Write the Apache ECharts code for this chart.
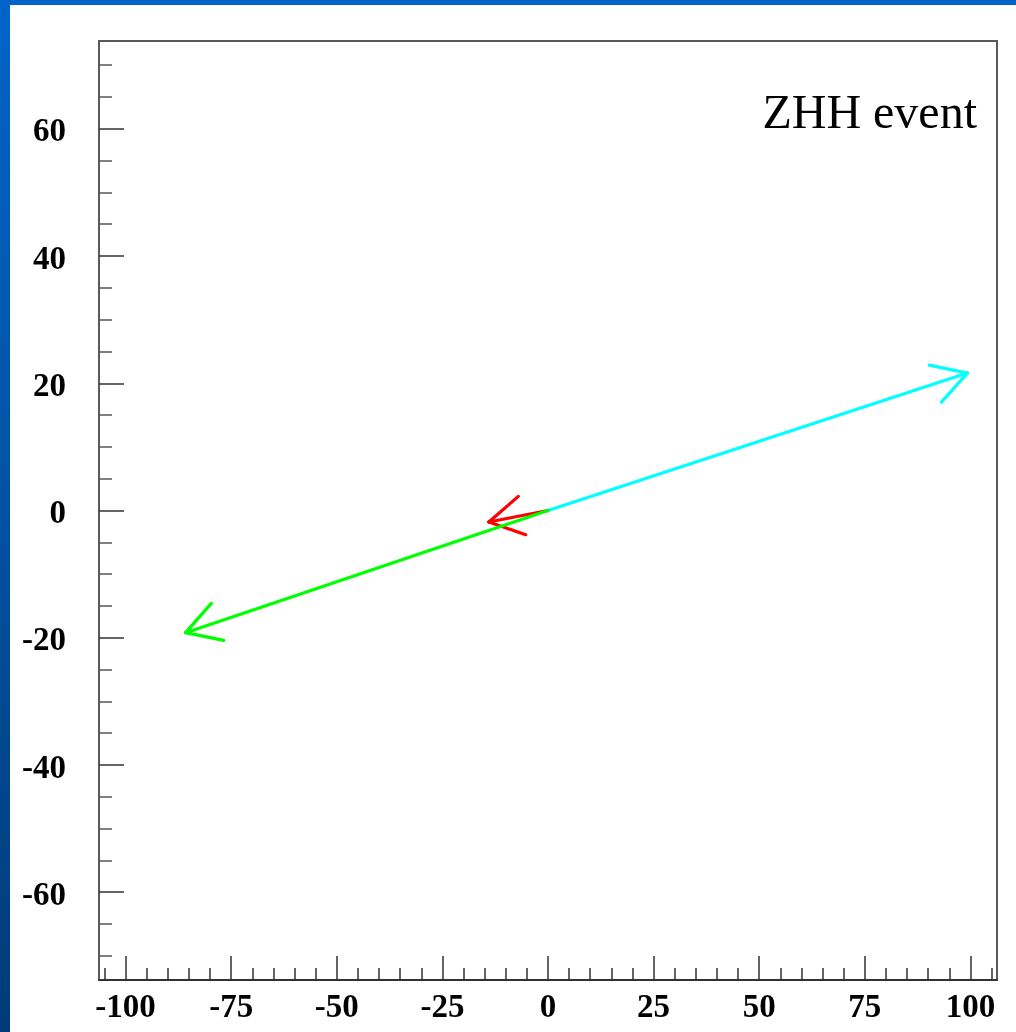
<!DOCTYPE html>
<html>
<head>
<meta charset="utf-8">
<title>ZHH event</title>
<script src="https://cdn.jsdelivr.net/npm/echarts@6/dist/echarts.min.js"></script>
<style>
  html, body { margin: 0; padding: 0; width: 1016px; height: 1032px; overflow: hidden; }
  body { background: linear-gradient(180deg, #0064c8 0%, #0054a6 45%, #003b78 100%); }
  #chart { position: absolute; left: 10px; top: 5px; width: 1006px; height: 1027px; background: #ffffff; }
</style>
</head>
<body>
<div id="chart"></div>
<script>
// Momentum vectors in the transverse plane (start at the origin)
const vecX = [-14.0, 99.3, -85.8];
const vecY = [-1.8, 21.6, -19.2];
const vecColors = ['#ff0000', '#00ffff', '#00ff00'];

// Axis ranges and tick labels
const xRange = [-106.3, 106.3];
const yRange = [-73.8, 73.8];
const xMajor = [-100, -75, -50, -25, 0, 25, 50, 75, 100];
const yMajor = [-60, -40, -20, 0, 20, 40, 60];

// minor ticks every 5 units between the labelled ones
const xMinor = [];
for (let v = -105; v <= 105; v += 5) if (xMajor.indexOf(v) < 0) xMinor.push(v);
const yMinor = [];
for (let v = -70; v <= 70; v += 5) if (yMajor.indexOf(v) < 0) yMinor.push(v);

const labelFont = {
  fontFamily: 'Liberation Serif',
  fontWeight: 'bold',
  fontSize: 33,
  color: '#000'
};

const HEAD_LEN = 39;
const HEAD_ANGLE = Math.PI / 6;

function renderArrow(params, api) {
  const o = api.coord([0, 0]);
  const t = api.coord([api.value(0), api.value(1)]);
  const color = vecColors[params.dataIndex];
  const back = Math.atan2(o[1] - t[1], o[0] - t[0]);
  const a1 = back + HEAD_ANGLE, a2 = back - HEAD_ANGLE;
  const style = { stroke: color, lineWidth: 3.2, lineCap: 'round' };
  return {
    type: 'group',
    children: [
      { type: 'line', shape: { x1: o[0], y1: o[1], x2: t[0], y2: t[1] }, style: style },
      { type: 'line', shape: { x1: t[0], y1: t[1], x2: t[0] + HEAD_LEN * Math.cos(a1), y2: t[1] + HEAD_LEN * Math.sin(a1) }, style: style },
      { type: 'line', shape: { x1: t[0], y1: t[1], x2: t[0] + HEAD_LEN * Math.cos(a2), y2: t[1] + HEAD_LEN * Math.sin(a2) }, style: style }
    ]
  };
}

const chart = echarts.init(document.getElementById('chart'), null, { renderer: 'canvas' });

chart.setOption({
  animation: false,
  backgroundColor: '#ffffff',
  grid: {
    left: 89, top: 36, width: 898, height: 939,
    show: true, borderColor: '#5a5a5a', borderWidth: 2, backgroundColor: '#ffffff'
  },
  xAxis: [
    {
      type: 'value', min: xRange[0], max: xRange[1], position: 'bottom',
      axisLine: { show: true, onZero: false, lineStyle: { color: '#333', width: 2 } },
      axisTick: { show: true, inside: true, length: 24, customValues: xMajor, lineStyle: { color: '#333', width: 1.5 } },
      axisLabel: Object.assign({ customValues: xMajor, margin: 12 }, labelFont),
      splitLine: { show: false }
    },
    {
      type: 'value', min: xRange[0], max: xRange[1], position: 'bottom',
      axisLine: { show: false, onZero: false },
      axisTick: { show: true, inside: true, length: 12, customValues: xMinor, lineStyle: { color: '#333', width: 1.5 } },
      axisLabel: { show: false },
      splitLine: { show: false }
    }
  ],
  yAxis: [
    {
      type: 'value', min: yRange[0], max: yRange[1], position: 'left',
      axisLine: { show: true, onZero: false, lineStyle: { color: '#5a5a5a', width: 2 } },
      axisTick: { show: true, inside: true, length: 25, customValues: yMajor, lineStyle: { color: '#333', width: 1.5 } },
      axisLabel: {
        customValues: yMajor,
        margin: 33,
        formatter: '{v|{value}}',
        rich: { v: Object.assign({ padding: [8, 0, 0, 0] }, labelFont) }
      },
      splitLine: { show: false }
    },
    {
      type: 'value', min: yRange[0], max: yRange[1], position: 'left',
      axisLine: { show: false, onZero: false },
      axisTick: { show: true, inside: true, length: 13, customValues: yMinor, lineStyle: { color: '#555', width: 1.5 } },
      axisLabel: { show: false },
      splitLine: { show: false }
    }
  ],
  series: [
    {
      type: 'custom',
      xAxisIndex: 0,
      yAxisIndex: 0,
      clip: false,
      renderItem: renderArrow,
      data: vecX.map((x, i) => [x, vecY[i]])
    }
  ],
  graphic: [
    {
      type: 'text',
      right: 39,
      top: 86,
      style: {
        text: 'ZHH event',
        fontFamily: 'Liberation Serif',
        fontSize: 48,
        fill: '#000'
      }
    }
  ]
});
</script>
</body>
</html>
